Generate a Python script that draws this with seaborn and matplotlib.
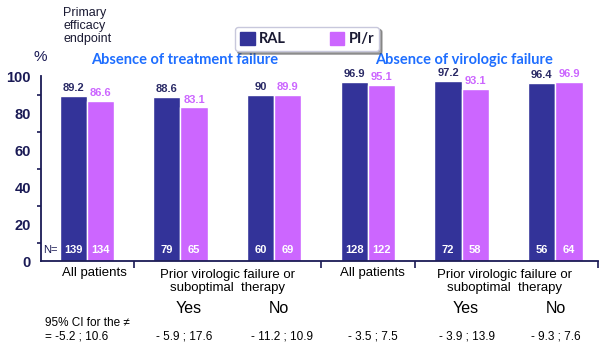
import pandas as pd
import numpy as np
import matplotlib
matplotlib.use('Agg')
import matplotlib.pyplot as plt
import seaborn as sns
from matplotlib.patches import Patch

# data
groups = ['g1', 'g2', 'g3', 'g4', 'g5', 'g6']
ral = [89.2, 88.6, 90, 96.9, 97.2, 96.4]
pir = [86.6, 83.1, 89.9, 95.1, 93.1, 96.9]
n_ral = [139, 79, 60, 128, 72, 56]
n_pir = [134, 65, 69, 122, 58, 64]
ci_labels = ['= -5.2 ; 10.6', '- 5.9 ; 17.6', '- 11.2 ; 10.9',
             '- 3.5 ; 7.5', '- 3.9 ; 13.9', '- 9.3 ; 7.6']
arms = ['RAL', 'PI/r']

df = pd.DataFrame({
    'group': groups * 2,
    'arm': [arms[0]] * 6 + [arms[1]] * 6,
    'value': ral + pir,
})

navy = '#333399'
purple = '#CC66FF'
axcol = '#1a1a55'
blue = '#1E6EFF'

sns.set_style('white')
plt.rcParams['font.family'] = ['Liberation Sans', 'DejaVu Sans']

fig = plt.figure(figsize=(6, 3.52), dpi=100)
ax = fig.add_axes([0.068, 0.2585, 0.928, 0.5255])

sns.barplot(data=df, x='group', y='value', hue='arm', palette=[navy, purple],
            width=0.58, ax=ax, legend=False, saturation=1)

ax.set_xlim(-0.49, 5.45)
ax.set_ylim(0, 100)
ax.set_xlabel('')
ax.set_ylabel('')

# axes styling
for s in ['top', 'right']:
    ax.spines[s].set_visible(False)
for s in ['left', 'bottom']:
    ax.spines[s].set_color(axcol)
    ax.spines[s].set_linewidth(1.3)
ax.set_yticks([0, 20, 40, 60, 80, 100])
ax.set_yticks(np.arange(10, 100, 20), minor=True)
ax.tick_params(axis='y', which='major', direction='out', length=5, width=1.2,
               color=axcol, labelsize=10.5, labelcolor=axcol, pad=2)
ax.tick_params(axis='y', which='minor', direction='out', length=3, width=1.2,
               color=axcol, left=True)
for lab in ax.get_yticklabels():
    lab.set_fontweight('bold')
ax.set_xticks([0.5, 2.5, 3.5, 5.45])
ax.set_xticklabels([])
ax.tick_params(axis='x', direction='out', length=5, width=1.2, color=axcol, bottom=True)

# value labels and N counts
for i, cont in enumerate(ax.containers):
    col = '#2a2a66' if i == 0 else purple
    ax.bar_label(cont, labels=[('%g' % v) for v in (ral if i == 0 else pir)],
                 padding=2, fontsize=8, fontweight='bold', color=col)
    counts = n_ral if i == 0 else n_pir
    for bar, n in zip(cont, counts):
        ax.text(bar.get_x() + bar.get_width() / 2, 6, str(n), ha='center', va='center',
                fontsize=8, fontweight='bold', color='white')
ax.text(-0.46, 6, 'N=', ha='left', va='center', fontsize=8, color=axcol)

# category labels below the axis
tr = ax.get_xaxis_transform()
cat_font = dict(fontsize=9.5, color='black', ha='center', va='center', transform=tr)
ax.text(0.085, -0.065, 'All patients', **cat_font)
ax.text(3.05, -0.065, 'All patients', **cat_font)
ax.text(1.5, -0.11, 'Prior virologic failure or\nsuboptimal  therapy',
        linespacing=1.1, **cat_font)
ax.text(4.46, -0.11, 'Prior virologic failure or\nsuboptimal  therapy',
        linespacing=1.1, **cat_font)
yn_font = dict(fontsize=11.5, color='black', ha='center', va='center', transform=tr)
for x, t in [(1.09, 'Yes'), (2.05, 'No'), (4.04, 'Yes'), (5.01, 'No')]:
    ax.text(x, -0.255, t, **yn_font)

ax.text(-0.49 + (45 - 41) / 93.8, -0.335, '95% CI for the \u2260', ha='left', va='center',
        fontsize=8.5, color='black', transform=tr)
ci_x = [-0.45, 1.04, 2.08, 3.05, 4.06, 5.0]
for i, (x, t) in enumerate(zip(ci_x, ci_labels)):
    ax.text(x, -0.41, t, ha='left' if i == 0 else 'center', va='center',
            fontsize=8.5, color='black', transform=tr)

# section titles
ax.text(1.04, 1.086, 'Absence of treatment failure', ha='center', va='center',
        fontsize=10.5, fontweight='bold', color=blue, transform=tr, family='Lato')
ax.text(4.03, 1.086, 'Absence of virologic failure', ha='center', va='center',
        fontsize=10.5, fontweight='bold', color=blue, transform=tr, family='Lato')

# figure texts
fig.text(40 / 600, 1 - 57 / 352, '%', fontsize=11, color=axcol, ha='center', va='center')
fig.text(63 / 600, 1 - 26 / 352, 'Primary\nefficacy\nendpoint', fontsize=9,
         color='#1a1a33', ha='left', va='center', linespacing=1.1)

# legend
handles = [Patch(facecolor=navy, edgecolor=navy), Patch(facecolor=purple, edgecolor=purple)]
leg = fig.legend(handles, arms, loc='center', bbox_to_anchor=(307 / 600, 1 - 39 / 352),
                 ncol=2, frameon=True, fancybox=True, shadow=True, handlelength=1.0,
                 handleheight=1.0, columnspacing=3.0, handletextpad=0.3,
                 prop={'family': 'Lato', 'weight': 'bold', 'size': 10.5},
                 borderpad=0.35)
leg.get_frame().set_edgecolor('#c8c8dc')
for t in leg.get_texts():
    t.set_color('#1a1a33')

fig.savefig('out.png', dpi=100)
